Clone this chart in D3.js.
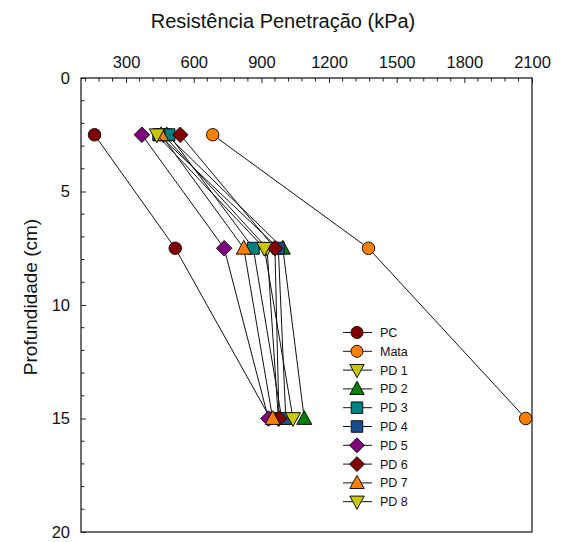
<!DOCTYPE html>
<html>
<head>
<meta charset="utf-8">
<script src="https://cdn.jsdelivr.net/npm/d3@7"></script>
<style>
  html, body { margin: 0; padding: 0; background: #fff; }
  svg { display: block; font-family: "Liberation Sans", Arial, sans-serif; }
</style>
</head>
<body>
<svg id="chart" width="562" height="542"></svg>
<script>
// Sampling depths (cm)
const depths = [2.5, 7.5, 15];

// Penetration resistance (kPa) per treatment, one value per depth
const seriesNames = ["PC", "Mata", "PD 1", "PD 2", "PD 3", "PD 4", "PD 5", "PD 6", "PD 7", "PD 8"];
const PC   = [160, 518, 940];
const Mata = [684, 1375, 2072];
const PD1  = [465, 925, 975];
const PD2  = [480, 995, 1090];
const PD3  = [490, 864, 990];
const PD4  = [445, 975, 1008];
const PD5  = [370, 735, 931];
const PD6  = [540, 960, 978];
const PD7  = [455, 822, 950];
const PD8  = [436, 913, 1040];
const seriesValues = [PC, Mata, PD1, PD2, PD3, PD4, PD5, PD6, PD7, PD8];

// Axis ticks
const xMajorTicks = [300, 600, 900, 1200, 1500, 1800, 2100];
const yMajorTicks = [0, 5, 10, 15, 20];

// Marker style per treatment
const symbols = ["circle", "circle", "tridown", "triup", "square", "square", "diamond", "diamond", "triup", "tridown"];
const fills = ["#800000", "#ff8000", "#c8c800", "#008000", "#008080", "#1a4f8f", "#800080", "#800000", "#ff8000", "#c8c800"];

const svg = d3.select("#chart");
const plotLeft = 81, plotRight = 532, plotTop = 78, plotBottom = 532;

const x = d3.scaleLinear().domain([100, 2100]).range([plotLeft, plotRight]);
const y = d3.scaleLinear().domain([0, 20]).range([plotTop, plotBottom]);

function markerPath(type, s) {
  const p = d3.path();
  if (type === "circle") {
    p.arc(0, 0, s * 0.5, 0, 2 * Math.PI);
  } else if (type === "square") {
    const h = s * 0.48;
    p.rect(-h, -h, 2 * h, 2 * h);
  } else if (type === "diamond") {
    const h = s * 0.62;
    p.moveTo(0, -h); p.lineTo(h, 0); p.lineTo(0, h); p.lineTo(-h, 0); p.closePath();
  } else if (type === "triup") {
    const w = s * 0.6, h = s * 0.55;
    p.moveTo(0, -h - 1); p.lineTo(w, h - 1); p.lineTo(-w, h - 1); p.closePath();
  } else if (type === "tridown") {
    const w = s * 0.6, h = s * 0.55;
    p.moveTo(-w, -h + 1); p.lineTo(w, -h + 1); p.lineTo(0, h + 1); p.closePath();
  }
  return p.toString();
}

// Frame
svg.append("rect")
  .attr("x", plotLeft).attr("y", plotTop)
  .attr("width", plotRight - plotLeft).attr("height", plotBottom - plotTop)
  .attr("fill", "none").attr("stroke", "#222").attr("stroke-width", 1.3);

// Top axis (inward ticks)
const xAxis = d3.axisTop(x).tickValues(xMajorTicks).tickFormat(d3.format("d"))
  .tickSize(-5).tickPadding(10).tickSizeOuter(0);
const gx = svg.append("g").attr("transform", `translate(0,${plotTop})`).call(xAxis);
gx.select(".domain").remove();
gx.selectAll("text").attr("font-size", 16.5).attr("fill", "#111").attr("dy", "0");
gx.selectAll("line").attr("stroke", "#222");

const xMinor = d3.range(120, 2100, 60).filter(v => !xMajorTicks.includes(v));
svg.append("g").selectAll("line").data(xMinor).join("line")
  .attr("x1", d => x(d)).attr("x2", d => x(d))
  .attr("y1", plotTop).attr("y2", plotTop + 3.5)
  .attr("stroke", "#222");

// Left axis (inward ticks)
const yAxis = d3.axisLeft(y).tickValues(yMajorTicks).tickSize(-5).tickPadding(11).tickSizeOuter(0);
const gy = svg.append("g").attr("transform", `translate(${plotLeft},0)`).call(yAxis);
gy.select(".domain").remove();
gy.selectAll("text").attr("font-size", 16.5).attr("fill", "#111");
gy.selectAll("line").attr("stroke", "#222");

const yMinor = d3.range(1, 20, 1).filter(v => !yMajorTicks.includes(v));
svg.append("g").selectAll("line").data(yMinor).join("line")
  .attr("x1", plotLeft).attr("x2", plotLeft + 3.5)
  .attr("y1", d => y(d)).attr("y2", d => y(d))
  .attr("stroke", "#222");

// Axis titles
svg.append("text")
  .attr("x", 283).attr("y", 28)
  .attr("text-anchor", "middle").attr("font-size", 20).attr("fill", "#111")
  .text("Resistência Penetração (kPa)");

svg.append("text")
  .attr("transform", `translate(37,297) rotate(-90)`)
  .attr("text-anchor", "middle").attr("font-size", 19).attr("fill", "#111")
  .text("Profundidade (cm)");

// Series lines and markers
const line = d3.line().x(d => x(d.v)).y(d => y(d.d));
seriesValues.forEach((vals, i) => {
  const pts = vals.map((v, k) => ({ v, d: depths[k] }));
  const g = svg.append("g");
  g.append("path").datum(pts).attr("d", line)
    .attr("fill", "none").attr("stroke", "#111").attr("stroke-width", 1);
  g.selectAll("path.m").data(pts).join("path").attr("class", "m")
    .attr("transform", d => `translate(${x(d.v)},${y(d.d)})`)
    .attr("d", markerPath(symbols[i], 12.5))
    .attr("fill", fills[i]).attr("stroke", "#111").attr("stroke-width", 1);
});

// Legend
const legX = 357, legY0 = 332.5, legStep = 18.8;
seriesNames.forEach((name, i) => {
  const g = svg.append("g").attr("transform", `translate(${legX},${legY0 + i * legStep})`);
  g.append("line").attr("x1", -14).attr("x2", 15).attr("y1", 0).attr("y2", 0)
    .attr("stroke", "#111").attr("stroke-width", 1);
  g.append("path").attr("d", markerPath(symbols[i], 12))
    .attr("fill", fills[i]).attr("stroke", "#111").attr("stroke-width", 1);
  g.append("text").attr("x", 23).attr("y", 4.5)
    .attr("font-size", 12.5).attr("fill", "#111").text(name);
});
</script>
</body>
</html>
